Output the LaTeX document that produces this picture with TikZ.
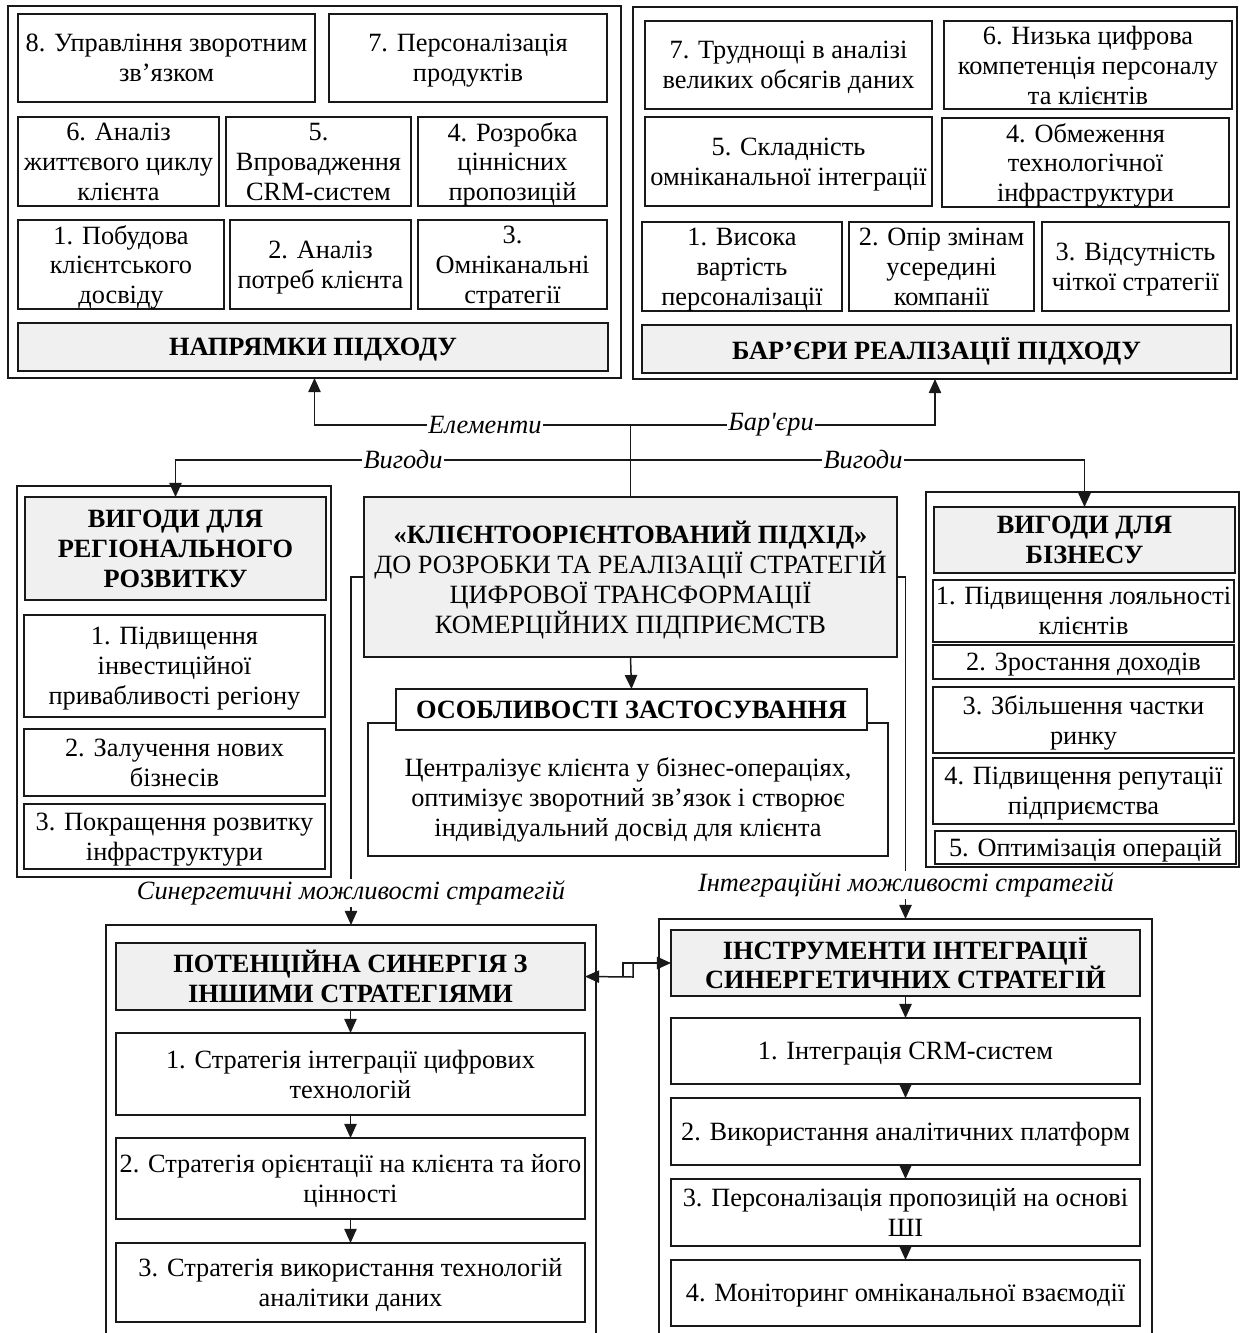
\documentclass[tikz,border=0pt]{standalone}
\usepackage{fontspec}
\setmainfont{Liberation Serif}
\usetikzlibrary{arrows.meta}
\newcommand\fs{\fontsize{15pt}{17pt}\selectfont}
\newcommand\bx[7][]{\node[box,#1,minimum width={(#5-#3)*0.02cm},minimum height={(#6-#4)*0.02cm}] (#2) at ({(#3+#5)/2},{(#4+#6)/2}) {#7};}
\tikzset{
  box/.style={draw=black!90, line width=0.85pt, inner sep=0pt, outer sep=0pt, align=center, font=\fs, text depth=0pt},
  hdr/.style={fill=black!6, font=\fs\bfseries},
  lbl/.style={fill=white, inner sep=1pt, font=\fs\itshape},
  ln/.style={line width=0.85pt, draw=black!90},
  arr/.style={ln, -{Triangle[length=8pt,width=7pt]}},
}
\begin{document}
\begin{tikzpicture}[x=0.02cm,y=-0.02cm]
\useasboundingbox (0,0) rectangle (1241,1333);
% ---------- top left
\bx{TL}{8}{6}{621}{378}{}
\bx{A8}{18}{14}{315}{102}{8. Управління зворотним\\зв’язком}
\bx{A7}{329}{14}{607}{102}{7. Персоналізація\\продуктів}
\bx{A6}{18}{117}{219}{206}{6. Аналіз\\життєвого циклу\\клієнта}
\bx{A5}{226}{117}{411}{206}{5.\\Впровадження\\CRM-систем}
\bx{A4}{418}{117}{607}{206}{4. Розробка\\ціннісних\\пропозицій}
\bx{A1}{18}{220}{224}{309}{1. Побудова\\клієнтського\\досвіду}
\bx{A2}{230}{220}{411}{309}{2. Аналіз\\потреб клієнта}
\bx{A3}{418}{220}{607}{309}{3.\\Омніканальні\\стратегії}
\bx[hdr]{AH}{18}{323}{608}{371}{НАПРЯМКИ ПІДХОДУ}
% ---------- top right
\bx{TR}{633}{7}{1237}{379}{}
\bx{B7}{645}{21}{932}{109}{7. Труднощі в аналізі\\великих обсягів даних}
\bx{B6}{944}{21}{1232}{109}{6. Низька цифрова\\компетенція персоналу\\та клієнтів}
\bx{B5}{645}{117}{932}{206}{5. Складність\\омніканальної інтеграції}
\bx{B4}{942}{118}{1229}{207}{4. Обмеження\\технологічної\\інфраструктури}
\bx{B1}{642}{222}{842}{311}{1. Висока\\вартість\\персоналізації}
\bx{B2}{849}{222}{1034}{311}{2. Опір змінам\\усередині\\компанії}
\bx{B3}{1042}{222}{1229}{311}{3. Відсутність\\чіткої стратегії}
\bx[hdr]{BH}{642}{325}{1231}{373}{БАР’ЄРИ РЕАЛІЗАЦІЇ ПІДХОДУ}
% ---------- left benefits
\bx{LB}{17}{486}{331}{877}{}
\bx[hdr]{LBh}{25}{497}{326}{600}{ВИГОДИ ДЛЯ\\РЕГІОНАЛЬНОГО\\РОЗВИТКУ}
\bx{LB1}{24}{615}{325}{717}{1. Підвищення\\інвестиційної\\привабливості регіону}
\bx{LB2}{24}{729}{325}{796}{2. Залучення нових\\бізнесів}
\bx{LB3}{24}{804}{325}{869}{3. Покращення розвитку\\інфраструктури}
% ---------- centre
\bx[fill=black!6]{C}{364}{497}{897}{657}{\textbf{«КЛІЄНТООРІЄНТОВАНИЙ ПІДХІД»}\\ДО РОЗРОБКИ ТА РЕАЛІЗАЦІЇ СТРАТЕГІЙ\\ЦИФРОВОЇ ТРАНСФОРМАЦІЇ\\КОМЕРЦІЙНИХ ПІДПРИЄМСТВ}
\bx{OSd}{368}{723}{888}{856}{}
\node[align=center, font=\fs, inner sep=0pt, text depth=0pt] (OSt) at (628,797) {Централізує клієнта у бізнес-операціях,\\оптимізує зворотний зв’язок і створює\\індивідуальний досвід для клієнта};
\bx[fill=white, font=\fs\bfseries]{OSh}{396}{689}{867}{730}{ОСОБЛИВОСТІ ЗАСТОСУВАННЯ}
% ---------- right benefits
\bx{RB}{926}{492}{1239}{867}{}
\bx[hdr]{RBh}{934}{507}{1235}{573}{ВИГОДИ ДЛЯ\\БІЗНЕСУ}
\bx{RB1}{933}{580}{1234}{642}{1. Підвищення лояльності\\клієнтів}
\bx{RB2}{933}{645}{1234}{679}{2. Зростання доходів}
\bx{RB3}{933}{687}{1234}{753}{3. Збільшення частки\\ринку}
\bx{RB4}{933}{758}{1234}{824}{4. Підвищення репутації\\підприємства}
\bx{RB5}{935}{831}{1236}{864}{5. Оптимізація операцій}
% ---------- bottom left
\draw[ln] (106,1340) -- (106,925) -- (596,925) -- (596,1340);
\coordinate (BLtop) at (351,925);
\bx[hdr]{BLh}{116}{943}{585}{1010}{ПОТЕНЦІЙНА СИНЕРГІЯ З\\ІНШИМИ СТРАТЕГІЯМИ}
\bx{BL1}{116}{1033}{585}{1115}{1. Стратегія інтеграції цифрових\\технологій}
\bx{BL2}{116}{1138}{585}{1219}{2. Стратегія орієнтації на клієнта та його\\цінності}
\bx{BL3}{116}{1243}{585}{1322}{3. Стратегія використання технологій\\аналітики даних}
% ---------- bottom right
\draw[ln] (659,1340) -- (659,919) -- (1152,919) -- (1152,1340);
\coordinate (BRtop) at (905.5,919);
\bx[hdr]{BRh}{671}{930}{1140}{996}{ІНСТРУМЕНТИ ІНТЕГРАЦІЇ\\СИНЕРГЕТИЧНИХ СТРАТЕГІЙ}
\bx{BR1}{671}{1018}{1140}{1084}{1. Інтеграція CRM-систем}
\bx{BR2}{671}{1098}{1140}{1165}{2. Використання аналітичних платформ}
\bx{BR3}{671}{1179}{1140}{1246}{3. Персоналізація пропозицій на основі\\ШІ}
\bx{BR4}{671}{1260}{1140}{1326}{4. Моніторинг омніканальної взаємодії}
% ---------- connectors
\coordinate (hub1) at (630.5,425);
\coordinate (hub2) at (630.5,460);
\draw[ln] (C.north) -- (hub1);
\draw[arr] (hub1) -| (TL.south);
\draw[arr] (hub1) -| (TR.south);
\draw[arr] (hub2) -| (LBh.north);
\draw[arr] (hub2) -| (RBh.north);
\node[lbl] (lEl) at (485,425) {Елементи};
\node[lbl] (lBar) at (771,425) {Бар\textquotesingle єри};
\node[lbl] (lV1) at (403,460) {Вигоди};
\node[lbl] (lV2) at (863,460) {Вигоди};
\draw[arr] (C.south) -- (OSh.north);
\draw[arr] (C.west) -| (BLtop);
\draw[arr] (C.east) -| (BRtop);
\node[lbl] (lSyn) at (351,893) {Синергетичні можливості стратегій};
\node[lbl] (lInt) at (906,885) {Інтеграційні можливості стратегій};
\draw[arr] (BLh.south) -- (BL1.north);
\draw[arr] (BL1.south) -- (BL2.north);
\draw[arr] (BL2.south) -- (BL3.north);
\draw[arr] (BRh.south) -- (BR1.north);
\draw[arr] (BR1.south) -- (BR2.north);
\draw[arr] (BR2.south) -- (BR3.north);
\draw[arr] (BR3.south) -- (BR4.north);
\coordinate (k1) at (623,977);
\coordinate (k2) at (633,963);
\draw[arr] (k1) -- (623,963) -- (BRh.west);
\draw[arr] (k2) -- (633,977) -- (BLh.east);
\end{tikzpicture}
\end{document}
